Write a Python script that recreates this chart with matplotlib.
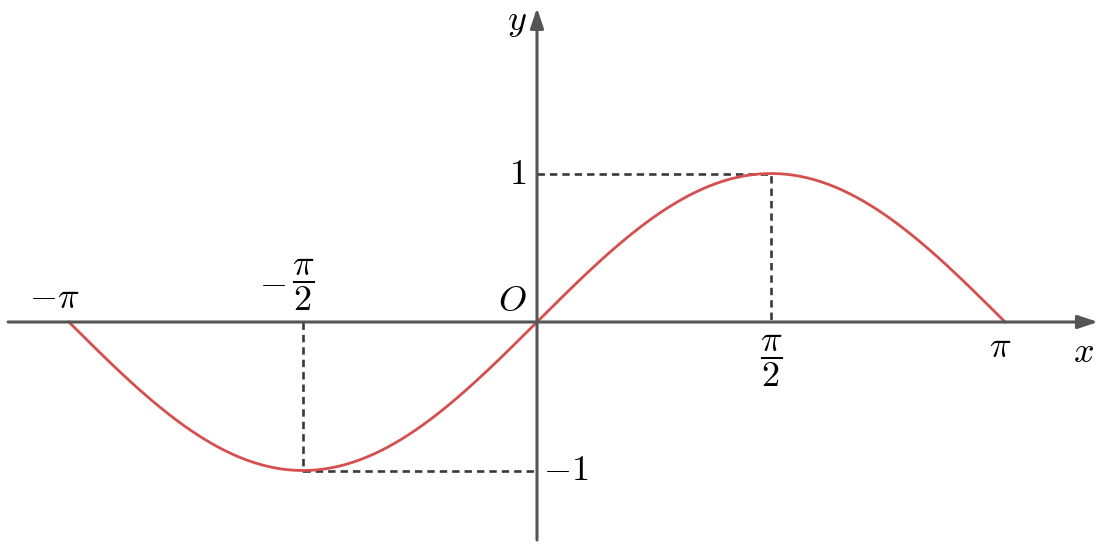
import numpy as np
import matplotlib.pyplot as plt

plt.rcParams['mathtext.fontset'] = 'cm'

# key points of the graph
x_start, x_end = -np.pi, np.pi
peak = (np.pi / 2, 1)
trough = (-np.pi / 2, -1)

# curve y = sin(x)
xs = np.linspace(x_start, x_end, 400)
ys = np.sin(xs)

axis_color = "#555555"

fig = plt.figure(figsize=(11.06, 5.45), dpi=100)
ax = fig.add_axes([0, 0, 1, 1])
ax.set_xlim(-537 / 149, (1106 - 537) / 149)
ax.set_ylim(-(545 - 322) / 148.5, 322 / 148.5)
ax.axis("off")

# axes with arrows
arrow = dict(arrowstyle="-|>,head_length=1.2,head_width=0.4",
             color=axis_color, lw=2.2, shrinkA=0, shrinkB=0)
ax.annotate("", xy=(3.765, 0), xytext=(-3.55, 0), arrowprops=arrow)
ax.annotate("", xy=(0, 2.115), xytext=(0, -1.468), arrowprops=arrow)

# dashed guides
dash = dict(color="#3a3a3a", lw=1.9, ls=(0, (2.8, 1.9)))
ax.plot([0, peak[0], peak[0]], [peak[1], peak[1], 0], **dash)
ax.plot([trough[0], trough[0], 0], [0, trough[1], trough[1]], **dash)

# sine curve
ax.plot(xs, ys, color="#d64f4f", lw=2)

fs = 26
ax.text(-3.24, 0.055, r"$-\pi$", fontsize=fs, ha="center", va="bottom")
ax.text(-1.774, 0.27, r"$-$", fontsize=fs, ha="center", va="center")
ax.text(-np.pi / 2, 0.06, r"$\dfrac{\pi}{2}$", fontsize=fs, ha="center", va="bottom")
ax.text(-0.07, 0.03, r"$O$", fontsize=fs, ha="right", va="bottom")
ax.text(-0.07, 1, r"$1$", fontsize=fs, ha="right", va="center")
ax.text(0.04, -1, r"$-1$", fontsize=fs, ha="left", va="center")
ax.text(np.pi / 2, -0.075, r"$\dfrac{\pi}{2}$", fontsize=fs, ha="center", va="top")
ax.text(np.pi - 0.03, -0.045, r"$\pi$", fontsize=fs, ha="center", va="top")
ax.text(3.67, -0.09, r"$x$", fontsize=fs, ha="center", va="top")
ax.text(-0.135, 2.02, r"$y$", fontsize=fs, ha="center", va="center")

fig.savefig("out.png", dpi=100)
